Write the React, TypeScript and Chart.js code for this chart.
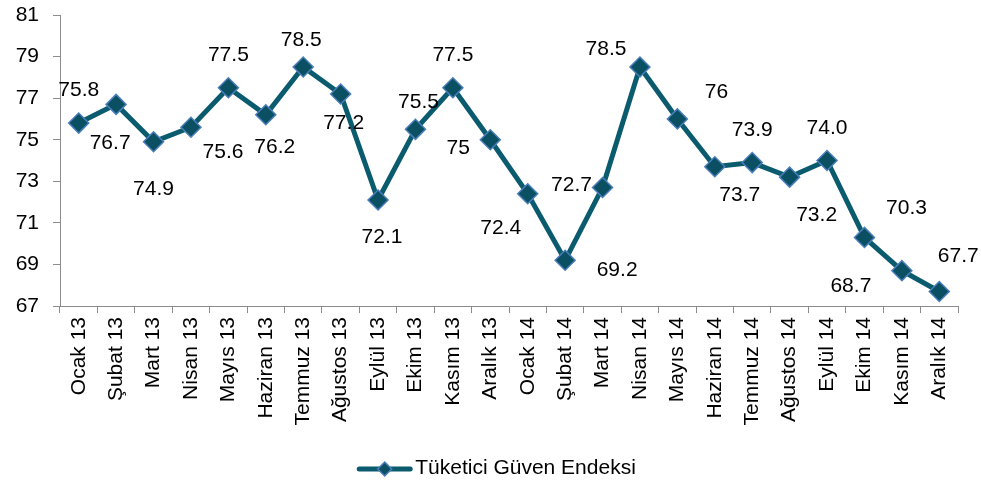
import React, { useEffect, useRef } from "react";
import { Chart, registerables } from "chart.js";

Chart.register(...registerables);

const categories = [
  "Ocak 13", "Şubat 13", "Mart 13", "Nisan 13", "Mayıs 13", "Haziran 13",
  "Temmuz 13", "Ağustos 13", "Eylül 13", "Ekim 13", "Kasım 13", "Aralık 13",
  "Ocak 14", "Şubat 14", "Mart 14", "Nisan 14", "Mayıs 14", "Haziran 14",
  "Temmuz 14", "Ağustos 14", "Eylül 14", "Ekim 14", "Kasım 14", "Aralık 14",
];

const seriesName = "Tüketici Güven Endeksi";

const values = [
  75.8, 76.7, 74.9, 75.6, 77.5, 76.2, 78.5, 77.2, 72.1, 75.5, 77.5, 75,
  72.4, 69.2, 72.7, 78.5, 76, 73.7, 73.9, 73.2, 74.0, 70.3, 68.7, 67.7,
];

const valueLabels = [
  "75.8", "76.7", "74.9", "75.6", "77.5", "76.2", "78.5", "77.2", "72.1", "75.5", "77.5", "75",
  "72.4", "69.2", "72.7", "78.5", "76", "73.7", "73.9", "73.2", "74.0", "70.3", "68.7", "67.7",
];

const yMin = 67;
const yMax = 81;
const yStep = 2;

// label placement offsets (pixels) relative to each point
const labelDx = [0, -6, 0, 32, 0, 9, -2, 3, 4, 3, 0, -32, -27, 52, -31, -34, 39, 25, 0, 27, 0, 42, -51, 19];
const labelDy = [-33, 39, 47, 25, -33, 32, -27, 29, 37, -27, -33, 8, 34, 10, -2, -18, -27, 28, -32, 38, -32, -29, 16, -35];

const FONT = "'Liberation Sans', Arial, sans-serif";
const FONT_SIZE = 21;
const LINE_COLOR = "#0B5B6E";
const MARKER_FILL = "#0A4F62";
const MARKER_BORDER = "#4A7EBB";
const AXIS_COLOR = "#8C8C8C";

const labelPlugin = {
  id: "valueLabels",
  afterDatasetsDraw(chart: any) {
    const meta = chart.getDatasetMeta(0);
    const ctx = chart.ctx;
    ctx.save();
    ctx.font = `${FONT_SIZE}px ${FONT}`;
    ctx.fillStyle = "#000";
    ctx.textAlign = "center";
    ctx.textBaseline = "middle";
    meta.data.forEach((pt: any, i: number) => {
      ctx.fillText(valueLabels[i], pt.x + labelDx[i], pt.y + labelDy[i]);
    });
    ctx.restore();
  },
};

const legendPlugin = {
  id: "customLegend",
  afterDraw(chart: any) {
    const ctx = chart.ctx;
    ctx.save();
    ctx.font = `${FONT_SIZE}px ${FONT}`;
    const textW = ctx.measureText(seriesName).width;
    const symW = 55;
    const gap = 3;
    const total = symW + gap + textW;
    const x0 = chart.width / 2 - total / 2 + 6;
    const y = chart.height - 16;
    ctx.strokeStyle = LINE_COLOR;
    ctx.lineWidth = 5;
    ctx.lineCap = "round";
    ctx.beginPath();
    ctx.moveTo(x0 + 2, y);
    ctx.lineTo(x0 + symW - 2, y);
    ctx.stroke();
    const cx = x0 + symW / 2;
    const r = 7;
    ctx.beginPath();
    ctx.moveTo(cx, y - r);
    ctx.lineTo(cx + r, y);
    ctx.lineTo(cx, y + r);
    ctx.lineTo(cx - r, y);
    ctx.closePath();
    ctx.fillStyle = MARKER_FILL;
    ctx.fill();
    ctx.lineWidth = 1.5;
    ctx.strokeStyle = MARKER_BORDER;
    ctx.stroke();
    ctx.fillStyle = "#000";
    ctx.textAlign = "left";
    ctx.textBaseline = "middle";
    ctx.fillText(seriesName, x0 + symW + gap, y - 1);
    ctx.restore();
  },
};

export default function App() {
  const ref = useRef<HTMLCanvasElement | null>(null);
  useEffect(() => {
    if (!ref.current) return;
    const chart = new Chart(ref.current, {
      type: "line",
      data: {
        labels: categories,
        datasets: [
          {
            label: seriesName,
            data: values,
            borderColor: LINE_COLOR,
            borderWidth: 5,
            backgroundColor: MARKER_FILL,
            pointStyle: "rectRot",
            pointRadius: 10,
            pointBackgroundColor: MARKER_FILL,
            pointBorderColor: MARKER_BORDER,
            pointBorderWidth: 1.5,
            tension: 0,
          },
        ],
      },
      options: {
        responsive: false,
        animation: false,
        layout: { padding: { top: 15, right: 23, bottom: 0, left: 0 } },
        plugins: {
          legend: { display: false },
          tooltip: { enabled: false },
        },
        scales: {
          x: {
            type: "category",
            offset: true,
            afterFit(scale: any) {
              scale.height = 179;
              scale.paddingTop = 0;
              scale.paddingBottom = 0;
              scale.paddingLeft = 0;
              scale.paddingRight = 0;
            },
            grid: {
              offset: true,
              drawOnChartArea: false,
              drawTicks: true,
              tickLength: 7,
              color: AXIS_COLOR,
            },
            border: { color: AXIS_COLOR, width: 1 },
            ticks: {
              autoSkip: false,
              minRotation: 90,
              maxRotation: 90,
              padding: 4,
              color: "#000",
              font: { family: FONT, size: FONT_SIZE },
            },
          },
          y: {
            min: yMin,
            max: yMax,
            afterFit(scale: any) {
              scale.width = 60;
              scale.paddingTop = 0;
              scale.paddingBottom = 0;
            },
            grid: {
              drawOnChartArea: false,
              drawTicks: true,
              tickLength: 7,
              color: AXIS_COLOR,
            },
            border: { color: AXIS_COLOR, width: 1 },
            ticks: {
              stepSize: yStep,
              padding: 14,
              color: "#000",
              font: { family: FONT, size: FONT_SIZE },
            },
          },
        },
      },
      plugins: [labelPlugin, legendPlugin],
    });
    return () => chart.destroy();
  }, []);
  return (
    <div style={{ position: "absolute", left: 0, top: 0, width: 981, height: 485, background: "#fff" }}>
      <canvas ref={ref} width={981} height={485} style={{ display: "block" }} />
    </div>
  );
}
